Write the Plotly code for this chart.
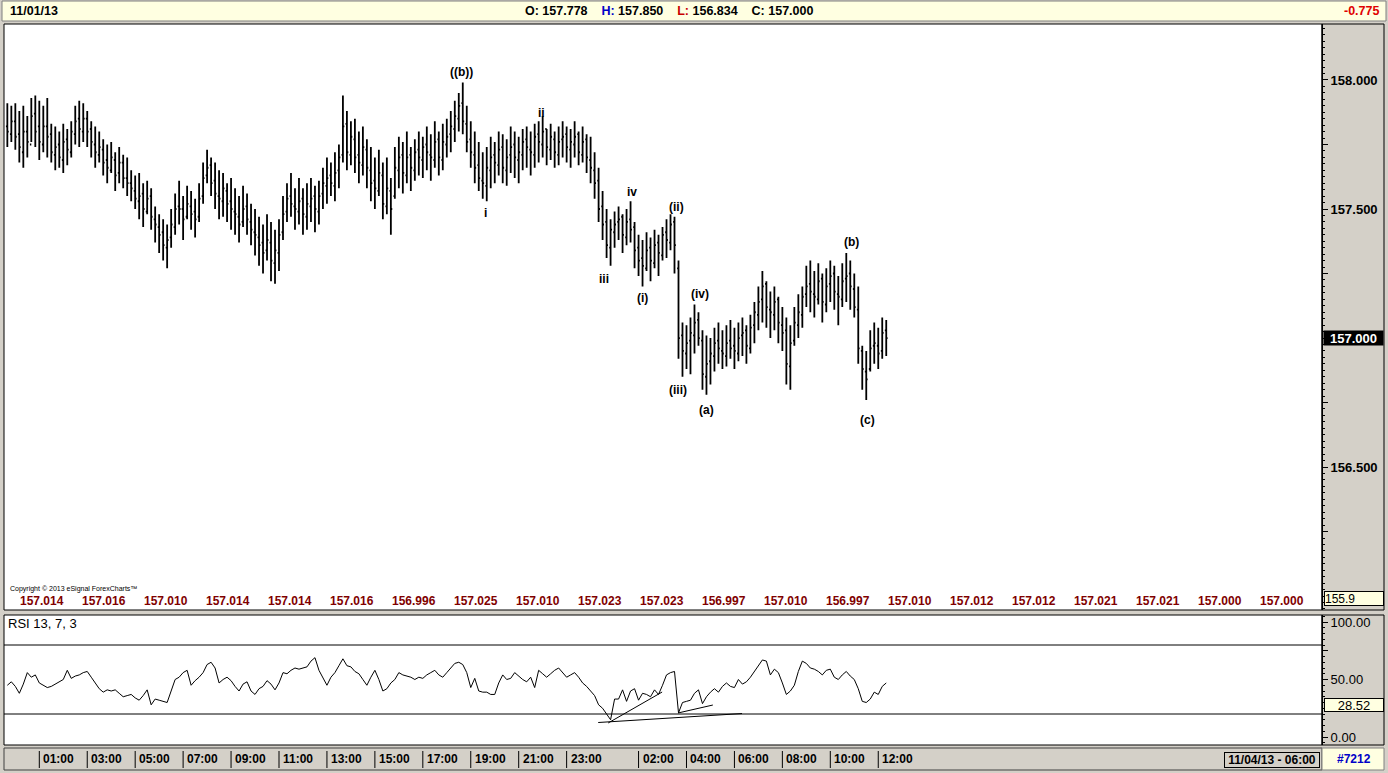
import pandas as pd
import plotly.graph_objects as go

# ---- data (10-minute bars) ----
bar_start = "2013-10-30 23:40"

opens = [
    157.82, 157.79, 157.84, 157.79, 157.72, 157.80, 157.75, 157.87, 157.82, 157.75,
    157.82, 157.79, 157.71, 157.75, 157.69, 157.77, 157.72, 157.79, 157.85, 157.80,
    157.85, 157.81, 157.75, 157.71, 157.73, 157.69, 157.65, 157.69, 157.64, 157.68,
    157.62, 157.60, 157.57, 157.53, 157.56, 157.49, 157.55, 157.46, 157.43, 157.41,
    157.35, 157.39, 157.43, 157.51, 157.50, 157.47, 157.51, 157.49, 157.47, 157.55,
    157.63, 157.67, 157.61, 157.55, 157.53, 157.57, 157.53, 157.49, 157.47, 157.45,
    157.51, 157.45, 157.41, 157.39, 157.37, 157.34, 157.37, 157.29, 157.33, 157.41,
    157.49, 157.55, 157.51, 157.49, 157.54, 157.47, 157.51, 157.55, 157.49, 157.56,
    157.59, 157.63, 157.59, 157.65, 157.71, 157.83, 157.71, 157.77, 157.71, 157.67,
    157.73, 157.65, 157.61, 157.57, 157.63, 157.51, 157.57, 157.55, 157.65, 157.71,
    157.63, 157.71, 157.65, 157.73, 157.69, 157.75, 157.71, 157.69, 157.77, 157.69,
    157.75, 157.79, 157.81, 157.85, 157.91, 157.83, 157.77, 157.71, 157.67, 157.61,
    157.59, 157.65, 157.71, 157.67, 157.74, 157.65, 157.71, 157.75, 157.69, 157.71,
    157.77, 157.73, 157.71, 157.79, 157.75, 157.81, 157.73, 157.77, 157.71, 157.77,
    157.79, 157.73, 157.75, 157.79, 157.71, 157.77, 157.69, 157.65, 157.61, 157.51,
    157.45, 157.35, 157.41, 157.45, 157.47, 157.39, 157.46, 157.43, 157.35, 157.31,
    157.27, 157.35, 157.29, 157.37, 157.32, 157.41, 157.37, 157.45, 157.27, 157.01,
    156.94, 156.99, 157.01, 157.07, 156.99, 156.85, 156.91, 156.93, 156.99, 156.95,
    156.93, 156.99, 156.97, 156.94, 157.01, 157.03, 156.96, 157.05, 157.09, 157.15,
    157.21, 157.11, 157.09, 157.15, 157.05, 157.03, 156.89, 156.99, 157.05, 157.09,
    157.17, 157.21, 157.17, 157.15, 157.23, 157.13, 157.21, 157.25, 157.17, 157.15,
    157.23, 157.25, 157.19, 157.11, 156.95, 156.87, 156.88, 156.97, 156.97, 156.95, 157.03,
]
highs = [
    157.91, 157.90, 157.91, 157.88, 157.90, 157.86, 157.93, 157.94, 157.92, 157.90,
    157.93, 157.83, 157.82, 157.80, 157.83, 157.81, 157.84, 157.90, 157.92, 157.91,
    157.88, 157.84, 157.82, 157.80, 157.77, 157.75, 157.76, 157.72, 157.74, 157.71,
    157.70, 157.65, 157.63, 157.64, 157.60, 157.61, 157.58, 157.51, 157.48, 157.46,
    157.44, 157.50, 157.56, 157.61, 157.55, 157.59, 157.57, 157.54, 157.60, 157.68,
    157.73, 157.70, 157.68, 157.65, 157.64, 157.60, 157.62, 157.58, 157.55, 157.59,
    157.56, 157.52, 157.50, 157.47, 157.44, 157.48, 157.45, 157.42, 157.46, 157.55,
    157.60, 157.64, 157.58, 157.62, 157.58, 157.60, 157.62, 157.59, 157.61, 157.66,
    157.70, 157.68, 157.72, 157.75, 157.94, 157.88, 157.84, 157.85, 157.80, 157.82,
    157.77, 157.74, 157.70, 157.73, 157.68, 157.70, 157.62, 157.74, 157.78, 157.76,
    157.80, 157.74, 157.77, 157.80, 157.78, 157.82, 157.79, 157.84, 157.80, 157.83,
    157.85, 157.88, 157.92, 157.95, 157.99, 157.90, 157.84, 157.80, 157.76, 157.72,
    157.74, 157.78, 157.76, 157.80, 157.79, 157.77, 157.82, 157.80, 157.78, 157.81,
    157.82, 157.80, 157.83, 157.84, 157.86, 157.81, 157.83, 157.80, 157.82, 157.84,
    157.82, 157.81, 157.84, 157.80, 157.82, 157.79, 157.78, 157.72, 157.66, 157.57,
    157.50, 157.46, 157.49, 157.51, 157.48, 157.50, 157.53, 157.45, 157.40, 157.38,
    157.41, 157.39, 157.42, 157.40, 157.43, 157.46, 157.48, 157.47, 157.30, 157.06,
    157.05, 157.08, 157.13, 157.10, 157.03, 157.01, 157.00, 157.04, 157.06, 157.03,
    157.05, 157.07, 157.04, 157.06, 157.08, 157.05, 157.09, 157.14, 157.20, 157.26,
    157.22, 157.18, 157.20, 157.16, 157.12, 157.08, 157.05, 157.12, 157.17, 157.20,
    157.28, 157.30, 157.26, 157.29, 157.25, 157.27, 157.30, 157.28, 157.24, 157.29,
    157.33, 157.30, 157.25, 157.20, 156.97, 156.95, 157.03, 157.06, 157.04, 157.08, 157.07,
]
lows = [
    157.74, 157.76, 157.73, 157.68, 157.66, 157.70, 157.76, 157.74, 157.69, 157.72,
    157.70, 157.68, 157.65, 157.66, 157.64, 157.67, 157.70, 157.75, 157.74, 157.76,
    157.74, 157.70, 157.66, 157.68, 157.63, 157.60, 157.64, 157.57, 157.60, 157.58,
    157.55, 157.53, 157.50, 157.46, 157.43, 157.48, 157.42, 157.37, 157.33, 157.30,
    157.27, 157.35, 157.40, 157.44, 157.38, 157.46, 157.42, 157.39, 157.45, 157.52,
    157.60, 157.55, 157.50, 157.46, 157.47, 157.45, 157.42, 157.40, 157.37, 157.43,
    157.40, 157.36, 157.32, 157.28, 157.25, 157.30, 157.22, 157.21, 157.26, 157.38,
    157.45, 157.47, 157.42, 157.44, 157.40, 157.42, 157.45, 157.41, 157.44, 157.50,
    157.52, 157.55, 157.53, 157.58, 157.68, 157.65, 157.67, 157.64, 157.60, 157.63,
    157.58, 157.53, 157.50, 157.55, 157.46, 157.48, 157.40, 157.54, 157.58, 157.56,
    157.60, 157.57, 157.61, 157.63, 157.62, 157.65, 157.61, 157.66, 157.63, 157.65,
    157.70, 157.72, 157.76, 157.80, 157.79, 157.72, 157.66, 157.60, 157.57, 157.54,
    157.53, 157.58, 157.60, 157.63, 157.60, 157.59, 157.64, 157.62, 157.60, 157.65,
    157.66, 157.63, 157.66, 157.68, 157.70, 157.67, 157.69, 157.66, 157.67, 157.70,
    157.68, 157.66, 157.70, 157.67, 157.68, 157.64, 157.60, 157.54, 157.45, 157.38,
    157.31, 157.28, 157.35, 157.38, 157.33, 157.36, 157.37, 157.27, 157.24, 157.20,
    157.26, 157.22, 157.27, 157.24, 157.30, 157.31, 157.34, 157.25, 156.92, 156.85,
    156.88, 156.86, 156.94, 156.97, 156.80, 156.78, 156.82, 156.87, 156.90, 156.88,
    156.89, 156.92, 156.88, 156.91, 156.93, 156.90, 156.94, 156.98, 157.03, 157.06,
    157.04, 157.00, 157.03, 156.98, 156.95, 156.82, 156.80, 156.97, 157.00, 157.04,
    157.12, 157.10, 157.08, 157.13, 157.06, 157.10, 157.14, 157.11, 157.05, 157.12,
    157.14, 157.11, 157.08, 156.90, 156.80, 156.76, 156.87, 156.90, 156.88, 156.92, 156.93,
]
closes = [
    157.80, 157.84, 157.78, 157.74, 157.80, 157.76, 157.86, 157.80, 157.76, 157.82,
    157.78, 157.72, 157.74, 157.70, 157.76, 157.73, 157.80, 157.84, 157.81, 157.85,
    157.80, 157.76, 157.72, 157.74, 157.68, 157.66, 157.70, 157.63, 157.68, 157.62,
    157.60, 157.58, 157.54, 157.55, 157.50, 157.54, 157.47, 157.44, 157.40, 157.36,
    157.38, 157.44, 157.50, 157.50, 157.46, 157.52, 157.48, 157.46, 157.54, 157.62,
    157.66, 157.60, 157.56, 157.54, 157.58, 157.52, 157.50, 157.48, 157.44, 157.50,
    157.46, 157.42, 157.40, 157.36, 157.33, 157.38, 157.30, 157.34, 157.40, 157.48,
    157.54, 157.52, 157.50, 157.53, 157.48, 157.52, 157.54, 157.50, 157.55, 157.60,
    157.62, 157.60, 157.64, 157.70, 157.82, 157.72, 157.78, 157.70, 157.68, 157.74,
    157.66, 157.60, 157.58, 157.64, 157.52, 157.58, 157.50, 157.66, 157.70, 157.64,
    157.70, 157.66, 157.72, 157.70, 157.74, 157.72, 157.70, 157.76, 157.70, 157.76,
    157.78, 157.82, 157.86, 157.90, 157.84, 157.76, 157.72, 157.66, 157.62, 157.60,
    157.66, 157.70, 157.68, 157.73, 157.66, 157.70, 157.74, 157.70, 157.72, 157.76,
    157.74, 157.72, 157.78, 157.76, 157.80, 157.74, 157.78, 157.72, 157.76, 157.78,
    157.74, 157.76, 157.78, 157.72, 157.76, 157.70, 157.66, 157.60, 157.50, 157.44,
    157.36, 157.42, 157.44, 157.46, 157.40, 157.45, 157.42, 157.34, 157.30, 157.28,
    157.34, 157.30, 157.36, 157.33, 157.40, 157.38, 157.44, 157.36, 157.00, 156.95,
    156.98, 157.02, 157.06, 157.00, 156.86, 156.90, 156.94, 156.98, 156.96, 156.94,
    156.98, 156.96, 156.95, 157.00, 157.02, 156.97, 157.04, 157.10, 157.14, 157.20,
    157.12, 157.10, 157.14, 157.06, 157.02, 156.90, 156.98, 157.06, 157.10, 157.16,
    157.20, 157.18, 157.16, 157.22, 157.14, 157.20, 157.24, 157.18, 157.16, 157.22,
    157.24, 157.20, 157.12, 156.96, 156.88, 156.84, 156.96, 156.98, 156.94, 157.02, 157.00,
]
rsi = [
    45, 48, 44, 38, 46, 56, 52, 54, 47, 45,
    43, 44, 46, 48, 50, 58, 51, 53, 54, 56,
    57, 52, 47, 42, 39, 41, 40, 41, 38, 35,
    36, 37, 34, 32, 36, 41, 28, 33, 32, 31,
    30, 40, 50, 52, 56, 58, 45, 49, 52, 56,
    63, 65, 60, 47, 50, 52, 49, 44, 40, 46,
    48, 40, 37, 42, 44, 49, 46, 41, 47, 56,
    55, 58, 60, 59, 60, 61, 66, 69, 58, 52,
    45, 52, 56, 62, 68, 62, 61, 57, 55, 50,
    45, 52, 58, 50, 40, 42, 47, 50, 56, 54,
    53, 52, 50, 52, 51, 54, 56, 58, 54, 52,
    56, 60, 64, 65, 63, 56, 43, 51, 40, 39,
    39, 37, 37, 47, 54, 50, 51, 56, 53, 50,
    48, 52, 43, 58, 55, 52, 55, 58, 60, 56,
    52, 54, 56, 52, 47, 44, 40, 36, 28, 25,
    20, 15, 33, 33, 41, 31, 40, 42, 32, 38,
    37, 35, 41, 37, 45, 54, 56, 57, 21, 30,
    31, 32, 38, 41, 29, 35, 39, 42, 39, 44,
    47, 44, 43, 50, 46, 48, 52, 57, 62, 67,
    66, 54, 59, 56, 47, 37, 40, 45, 57, 66,
    64, 60, 59, 57, 54, 58, 59, 52, 50, 54,
    57, 53, 50, 42, 31, 30, 33, 39, 37, 44, 47,
]

# Elliott wave labels
wave_labels = ["((b))", "ii", "i", "iv", "(ii)", "iii", "(i)", "(iv)", "(iii)", "(a)", "(b)", "(c)"]
wave_times = ["2013-10-31 18:38", "2013-10-31 21:58", "2013-10-31 19:38", "2013-11-01 01:44",
              "2013-11-01 03:34", "2013-11-01 00:34", "2013-11-01 02:11", "2013-11-01 04:34",
              "2013-11-01 03:39", "2013-11-01 04:49", "2013-11-01 10:52", "2013-11-01 11:34"]
wave_prices = [158.031, 157.872, 157.484, 157.566, 157.508, 157.229, 157.155, 157.170,
               156.798, 156.721, 157.372, 156.682]

# RSI trendlines drawn on the chart
trend_x0 = ["2013-11-01 00:19", "2013-11-01 00:44", "2013-11-01 03:39"]
trend_y0 = [12.6, 12.2, 20.9]
trend_x1 = ["2013-11-01 06:19", "2013-11-01 02:59", "2013-11-01 05:06"]
trend_y1 = [20.4, 39.1, 27.8]

tick_times = ["2013-10-31 01:00", "2013-10-31 03:00", "2013-10-31 05:00", "2013-10-31 07:00",
              "2013-10-31 09:00", "2013-10-31 11:00", "2013-10-31 13:00", "2013-10-31 15:00",
              "2013-10-31 17:00", "2013-10-31 19:00", "2013-10-31 21:00", "2013-10-31 23:00",
              "2013-11-01 02:00", "2013-11-01 04:00", "2013-11-01 06:00", "2013-11-01 08:00",
              "2013-11-01 10:00", "2013-11-01 12:00"]
tick_labels = ["01:00", "03:00", "05:00", "07:00", "09:00", "11:00", "13:00", "15:00", "17:00",
               "19:00", "21:00", "23:00", "02:00", "04:00", "06:00", "08:00", "10:00", "12:00"]

pivot_values = ["157.014", "157.016", "157.010", "157.014", "157.014", "157.016", "156.996",
                "157.025", "157.010", "157.023", "157.023", "156.997", "157.010", "156.997",
                "157.010", "157.012", "157.012", "157.021", "157.021", "157.000", "157.000"]

price_ticks = [156.0, 156.25, 156.5, 156.75, 157.0, 157.25, 157.5, 157.75, 158.0]
# 157.000 is shown by the last-price box instead of a tick label
price_tick_text = ["", "", "156.500", "", "", "", "157.500", "", "158.000"]
rsi_ticks = [0, 25, 50, 75, 100]
rsi_tick_text = ["0.00", "", "50.00", "", "100.00"]
rsi_levels = [20, 80]

# ---- page geometry ----
W, H = 1388, 773
ML, MR, MT, MB = 4, 66, 24, 28
PW = W - ML - MR
PH = H - MT - MB

FONT = "Arial, Liberation Sans, sans-serif"
GREY = "#D4D0C8"
CREAM = "#FFFFE1"
MAROON = "#800000"


def px(x):
    return (x - ML) / PW


def py(y):
    return (H - MB - y) / PH


times = pd.date_range(bar_start, periods=len(closes), freq="10min")

fig = go.Figure()
fig.add_trace(go.Ohlc(x=times, open=opens, high=highs, low=lows, close=closes,
                      increasing_line_color="black", decreasing_line_color="black",
                      line_width=1.8, tickwidth=0.35, xaxis="x", yaxis="y",
                      showlegend=False, hoverinfo="skip"))
fig.add_trace(go.Scatter(x=times, y=rsi, mode="lines",
                         line=dict(color="black", width=1),
                         xaxis="x", yaxis="y2", showlegend=False, hoverinfo="skip"))

shapes = []
# header bar
shapes.append(dict(type="rect", xref="paper", yref="paper", x0=px(2), x1=px(1386),
                   y0=py(21), y1=py(1), fillcolor=CREAM, line=dict(color="#808080", width=1),
                   layer="below"))
# panel frames
for y_top, y_bot in [(24, 610), (615, 745)]:
    shapes.append(dict(type="rect", xref="paper", yref="paper", x0=0, x1=1,
                       y0=py(y_bot), y1=py(y_top), line=dict(color="black", width=1)))
    shapes.append(dict(type="rect", xref="paper", yref="paper", x0=1, x1=px(1384),
                       y0=py(y_bot), y1=py(y_top), line=dict(color="black", width=1)))
# bottom time bar
shapes.append(dict(type="rect", xref="paper", yref="paper", x0=0, x1=1,
                   y0=py(770), y1=py(748), line=dict(color="#404040", width=1)))
shapes.append(dict(type="rect", xref="paper", yref="paper", x0=1, x1=px(1384),
                   y0=py(770), y1=py(748), fillcolor=CREAM, line=dict(color="#808080", width=1)))
for t in tick_times:
    shapes.append(dict(type="line", xref="x", yref="paper", x0=t, x1=t,
                       y0=py(751), y1=py(768), line=dict(color="black", width=1)))
# RSI levels
for lv in rsi_levels:
    shapes.append(dict(type="line", xref="paper", yref="y2", x0=0, x1=1, y0=lv, y1=lv,
                       line=dict(color="black", width=1)))
# RSI trendlines
for a, b, c, d in zip(trend_x0, trend_y0, trend_x1, trend_y1):
    shapes.append(dict(type="line", xref="x", yref="y2", x0=a, y0=b, x1=c, y1=d,
                       line=dict(color="black", width=1)))

ann = []
bold = dict(family=FONT, size=12, color="black", weight="bold")
ann.append(dict(xref="paper", yref="paper", x=px(8), y=py(11), xanchor="left", yanchor="middle",
                text="11/01/13", showarrow=False, font=dict(family=FONT, size=12.5, color="black", weight="bold")))
ann.append(dict(xref="paper", yref="paper", x=px(669), y=py(11), xanchor="center", yanchor="middle",
                text=("O: 157.778&nbsp;&nbsp;&nbsp;&nbsp;<span style='color:#0000C8'>H:</span> 157.850&nbsp;&nbsp;&nbsp;&nbsp;"
                      "<span style='color:#C80000'>L:</span> 156.834&nbsp;&nbsp;&nbsp;&nbsp;C: 157.000"),
                showarrow=False, font=dict(family=FONT, size=12.5, color="black", weight="bold")))
ann.append(dict(xref="paper", yref="paper", x=px(1381), y=py(11), xanchor="right", yanchor="middle",
                text="-0.775", showarrow=False, font=dict(family=FONT, size=12.5, color="#E00000", weight="bold")))

for txt, t, p in zip(wave_labels, wave_times, wave_prices):
    ann.append(dict(xref="x", yref="y", x=t, y=p, text=txt, showarrow=False,
                    xanchor="center", yanchor="middle", font=bold))

ann.append(dict(xref="paper", yref="paper", x=px(8), y=py(589), xanchor="left", yanchor="middle",
                text="Copyright © 2013 eSignal ForexCharts™", showarrow=False,
                font=dict(family=FONT, size=7, color="black")))
for k, v in enumerate(pivot_values):
    ann.append(dict(xref="paper", yref="paper", x=px(42 + 62 * k), y=py(601), xanchor="center",
                    yanchor="middle", text=v, showarrow=False,
                    font=dict(family=FONT, size=12, color=MAROON, weight="bold")))

ann.append(dict(xref="paper", yref="paper", x=px(6), y=py(623), xanchor="left", yanchor="middle",
                text="RSI 13, 7, 3", showarrow=False, font=dict(family=FONT, size=13, color="black")))

for t, lab in zip(tick_times, tick_labels):
    ann.append(dict(xref="x", yref="paper", x=t, y=py(759), xanchor="left", yanchor="middle",
                    xshift=2, text=lab, showarrow=False, font=bold))

# value boxes on the right axes
ann.append(dict(xref="paper", yref="y", x=px(1353.5), y=closes[-1], xanchor="center",
                yanchor="middle", text="157.000", showarrow=False, bgcolor="black", width=57, height=12,
                font=dict(family=FONT, size=13, color="white", weight="bold")))
ann.append(dict(xref="paper", yref="paper", x=px(1353.5), y=py(598.5), xanchor="center",
                yanchor="middle", text="155.9&nbsp;&nbsp;&nbsp;&nbsp;&nbsp;", showarrow=False,
                bgcolor=CREAM, bordercolor="black", borderwidth=1, borderpad=0, width=58, height=13,
                align="left", font=dict(family=FONT, size=12, color="black")))
ann.append(dict(xref="paper", yref="paper", x=px(1353.5), y=py(705), xanchor="center",
                yanchor="middle", text="28.52", showarrow=False, bgcolor=CREAM, bordercolor="black",
                borderwidth=1, borderpad=0, width=58, height=12,
                font=dict(family=FONT, size=13, color="black")))
ann.append(dict(xref="paper", yref="paper", x=px(1272), y=py(759.5), xanchor="center",
                yanchor="middle", text="11/04/13 - 06:00", showarrow=False, bgcolor=GREY,
                bordercolor="black", borderwidth=1, borderpad=0, width=94, height=14,
                font=dict(family=FONT, size=12, color="black", weight="bold")))
ann.append(dict(xref="paper", yref="paper", x=px(1354), y=py(759), xanchor="center",
                yanchor="middle", text="#7212", showarrow=False,
                font=dict(family=FONT, size=12, color="#0000C8", weight="bold")))

fig.update_layout(
    width=W, height=H,
    margin=dict(l=ML, r=MR, t=MT, b=MB, pad=0),
    paper_bgcolor=GREY, plot_bgcolor="white",
    showlegend=False,
    dragmode=False,
    xaxis=dict(type="date", range=["2013-10-30 23:31:38", "2013-11-02 06:30:47"], anchor="y2",
               showticklabels=False, ticks="", showgrid=False, zeroline=False, showline=False,
               rangeslider=dict(visible=False)),
    yaxis=dict(domain=[py(610), 1], range=[155.946, 158.217], side="right", anchor="x",
               tickmode="array", tickvals=price_ticks, ticktext=price_tick_text,
               ticks="outside", ticklen=5, tickcolor="black", showgrid=False, zeroline=False,
               showline=True, linecolor="black", automargin=False,
               minor=dict(tickmode="linear", tick0=156.0, dtick=0.025, ticks="outside",
                          ticklen=2, tickcolor="black", showgrid=False),
               tickfont=dict(family=FONT, size=13, color="black", weight="bold")),
    yaxis2=dict(domain=[0, py(615)], range=[-6.96, 106.1], side="right", anchor="x",
                tickmode="array", tickvals=rsi_ticks, ticktext=rsi_tick_text,
                ticks="outside", ticklen=5, tickcolor="black", showgrid=False, zeroline=False,
                showline=True, linecolor="black", automargin=False,
                minor=dict(tickmode="linear", tick0=0, dtick=5, ticks="outside",
                           ticklen=2, tickcolor="black", showgrid=False),
                tickfont=dict(family=FONT, size=13, color="black")),
    shapes=shapes,
    annotations=ann,
)

fig.write_html("out.html", config={"displayModeBar": False},
               post_script="document.body.style.margin='0';")
